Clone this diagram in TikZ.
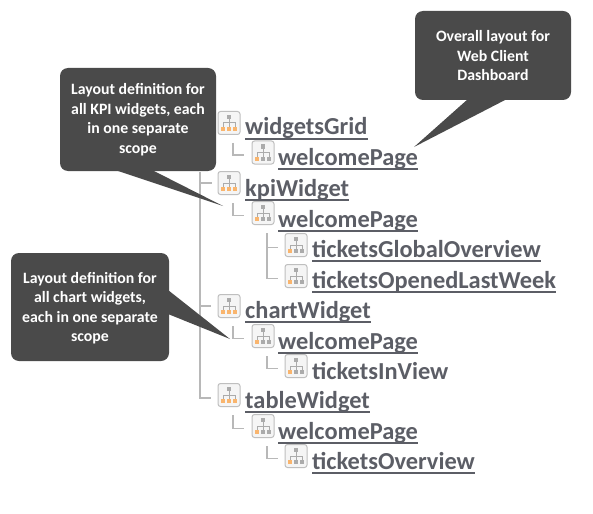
\documentclass[tikz,border=0pt]{standalone}
\usepackage{fontspec}
\setmainfont{Carlito}
\definecolor{calloutfill}{HTML}{4A4A4A}
\definecolor{labelcol}{HTML}{5C5E66}
\definecolor{treecol}{HTML}{B8B8B8}
\definecolor{icogray}{HTML}{ABABAB}
\definecolor{icoorange}{HTML}{F9B56E}
\tikzset{
  callout/.style={fill=calloutfill,draw=none,rounded corners=8pt},
  callouttext/.style={text=white,font=\bfseries\fontsize{15.8}{19.5}\selectfont,align=center,inner sep=0pt},
  treelabel/.style={text=labelcol,font=\bfseries\fontsize{24.4}{24.4}\selectfont,anchor=base west,inner sep=0pt},
  underl/.style={draw=labelcol,line width=1.1pt},
  treeline/.style={draw=treecol,line width=1.2pt},
  iconbox/.style={draw=black!25,fill=black!4,rounded corners=2.5pt,line width=1pt,minimum width=22pt,minimum height=23pt,inner sep=0pt},
}
% name, icon centre x, y, text x, baseline y, text, orange count
\newcommand\treeitem[7]{%
  \node[iconbox] (#1) at (#2,#3) {};
  \begin{scope}[shift={(#1.center)}]
    \fill[icogray] (-2,-8) rectangle (2,-4);
    \draw[icogray,line width=1pt] (0,-4) -- (0,4) (-6,4) -- (-6,0) -- (6,0) -- (6,4);
    \fill[icoorange] (-8,4) rectangle (-4,8);
    \ifnum#7>1 \fill[icoorange] (-2,4) rectangle (2,8); \else \fill[icogray] (-2,4) rectangle (2,8); \fi
    \ifnum#7>1 \fill[icoorange] (4,4) rectangle (8,8); \else \fill[icogray] (4,4) rectangle (8,8); \fi
  \end{scope}
  \node[treelabel] (#1t) at (#4,#5) {#6};
}
\begin{document}
\begin{tikzpicture}[x=1pt,y=-1pt]
\useasboundingbox (0,0) rectangle (593,513);
\fill[white] (0,0) rectangle (593,513);

\treeitem{a}{229}{123}{245}{135}{widgetsGrid}{3}
\treeitem{a1}{263}{152.5}{278}{165}{welcomePage}{1}
\treeitem{b}{229}{183}{245}{196}{kpiWidget}{3}
\treeitem{b1}{263}{213}{278}{227}{welcomePage}{1}
\treeitem{b2}{296}{245}{312}{257}{ticketsGlobalOverview}{1}
\treeitem{b3}{296}{276}{312}{288}{ticketsOpenedLastWeek}{1}
\treeitem{c}{229}{306}{245}{318}{chartWidget}{3}
\treeitem{c1}{263}{336}{278}{349}{welcomePage}{1}
\treeitem{c2}{296}{366}{312}{379}{ticketsInView}{1}
\treeitem{d}{229}{395}{245}{408}{tableWidget}{3}
\treeitem{d1}{263}{426}{278}{439}{welcomePage}{1}
\treeitem{d2}{296}{456}{312}{469}{ticketsOverview}{1}

\foreach \n in {a,a1,b,b1,b2,b3,c,c1,d,d1,d2}
  \draw[underl] ([yshift=-4pt]\n t.base west) -- ([yshift=-4pt]\n t.base east);

\coordinate (trunk) at (200,172);
\draw[treeline,shorten >=7pt] (trunk) |- ([yshift=-3pt]d.west);
\draw[treeline,shorten >=6pt] (trunk |- b.west) -- (b.west);
\draw[treeline,shorten >=7pt] (trunk |- c.west) -- (c.west);
\foreach \p/\ch in {a/a1,b/b1,c/c1,d/d1}
  \draw[treeline,shorten >=8pt] ([xshift=4pt,yshift=-8pt]\p.south) |- ([yshift=-2.5pt]\ch.west);
\foreach \p/\ch in {b1/b2,c1/c2,d1/d2}
  \draw[treeline,shorten >=7pt] ([xshift=4pt,yshift=-8pt]\p.south) |- ([yshift=-2.5pt]\ch.west);
\draw[treeline,shorten >=7pt] ([xshift=4pt,yshift=-8pt]b1.south) |- ([yshift=-2.5pt]b3.west);

% callouts
\coordinate (tipA) at (414,147);
\coordinate (tipB) at (223,206);
\coordinate (tipC) at (230,339);
\fill[callout] (415,11) rectangle (571,100);
\fill[calloutfill] (468,99) -- (tipA) -- (507,99) -- cycle;
\node[callouttext] (ca) at (493,56) {Overall layout for\\Web Client\\Dashboard};

\fill[callout] (60,68) rectangle (216,171);
\fill[calloutfill] (115,170) -- (tipB) -- (152,170) -- cycle;
\node[callouttext] (cb) at (138,119.5) {Layout definition for\\all KPI widgets, each\\in one separate\\scope};

\fill[callout] (11,253) rectangle (169,361);
\fill[calloutfill] (168,290) -- (tipC) -- (168,314) -- cycle;
\node[callouttext] (cc) at (90,308) {Layout definition for\\all chart widgets,\\each in one separate\\scope};
\end{tikzpicture}
\end{document}
